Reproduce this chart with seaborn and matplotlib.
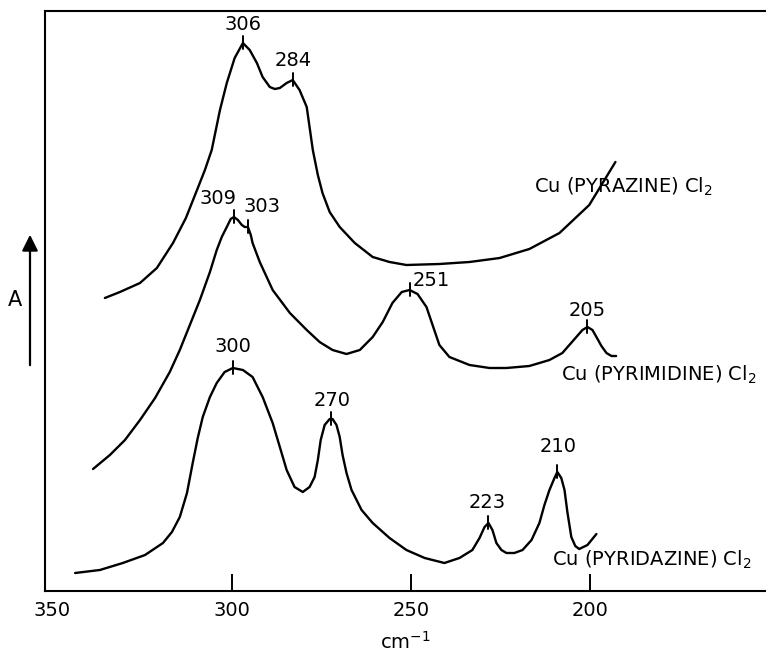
import numpy as np
import pandas as pd
import matplotlib
matplotlib.use("Agg")
import matplotlib.pyplot as plt
import seaborn as sns

# Far-IR absorption spectra (relative absorbance, arbitrary units) vs wavenumber (cm^-1)
pyrazine_x = [335.4, 331.2, 325.6, 320.9, 316.4, 312.8, 309.7, 307.5, 305.6, 303.3,
              301.4, 299.2, 296.9, 295.0, 293.0, 291.4, 289.4, 288.0, 286.6, 284.7,
              283.0, 281.1, 279.1, 277.4, 276.0, 274.7, 272.7, 269.9, 265.7, 260.7,
              256.0, 251.3, 242.1, 233.7, 225.3, 217.0, 208.6, 200.3, 193.0]
pyrazine_y = [293, 299, 308, 323, 348, 373, 401, 421, 441, 481,
              508, 533, 548, 541, 528, 514, 504, 502, 503, 508,
              511, 501, 484, 441, 416, 398, 379, 364, 348, 334,
              329, 326, 327, 329, 333, 342, 358, 386, 429]

pyrimidine_x = [338.7, 334.0, 329.8, 325.6, 321.4, 317.3, 314.5, 311.7, 308.9, 306.1,
                304.2, 302.8, 301.4, 300.3, 299.4, 298.3, 297.2, 296.4, 295.5, 294.7,
                294.2, 292.2, 288.6, 283.8, 279.1, 275.5, 271.9, 268.0, 264.3, 260.7,
                257.9, 255.2, 252.6, 250.4, 248.2, 245.7, 244.0, 242.1, 239.3, 233.7,
                228.1, 223.4, 217.0, 211.4, 207.8, 203.9, 202.2, 200.8, 199.4, 198.3,
                196.9, 195.5, 194.1, 192.8]
pyrimidine_y = [122, 136, 151, 171, 193, 219, 241, 266, 291, 319,
                341, 354, 364, 372, 374, 371, 366, 364, 364, 356,
                348, 329, 301, 278, 261, 249, 241, 237, 241, 254,
                269, 288, 299, 301, 297, 284, 266, 246, 234, 226,
                223, 223, 225, 231, 238, 254, 261, 264, 261, 254,
                245, 238, 235, 235]

pyridazine_x = [343.7, 336.8, 330.4, 324.2, 319.2, 316.7, 314.5, 312.5, 310.9, 309.5,
                308.1, 306.1, 304.2, 302.0, 299.7, 296.9, 294.2, 291.4, 288.6, 286.6,
                284.7, 282.5, 280.2, 278.3, 276.9, 276.0, 275.2, 274.1, 272.7, 271.9,
                270.8, 269.9, 269.1, 268.0, 266.6, 263.8, 260.7, 256.0, 251.3, 246.2,
                240.7, 236.5, 232.9, 230.9, 229.5, 228.4, 227.3, 226.2, 224.8, 223.4,
                221.2, 218.9, 216.4, 214.2, 212.8, 211.4, 210.0, 209.2, 208.1, 207.2,
                206.4, 205.3, 204.2, 203.1, 200.8, 198.3]
pyridazine_y = [18, 21, 28, 36, 48, 59, 74, 98, 128, 153,
                174, 194, 208, 219, 223, 221, 214, 194, 168, 144,
                121, 104, 99, 104, 114, 131, 151, 166, 172, 172,
                166, 154, 136, 118, 101, 81, 68, 53, 41, 33,
                28, 33, 41, 53, 64, 68, 61, 48, 41, 38,
                38, 41, 51, 68, 86, 101, 113, 119, 113, 101,
                79, 54, 45, 42, 46, 57]

# Band positions on each trace and the assigned frequencies written above them
pyrazine_peaks = [296.9, 283.0]
pyrazine_labels = ["306", "284"]
pyrimidine_peaks = [299.4, 295.5, 250.4, 200.8]
pyrimidine_labels = ["309", "303", "251", "205"]
pyridazine_peaks = [299.7, 272.3, 228.4, 209.2]
pyridazine_labels = ["300", "270", "223", "210"]

compound_names = ["Cu (PYRAZINE) Cl$_2$", "Cu (PYRIMIDINE) Cl$_2$", "Cu (PYRIDAZINE) Cl$_2$"]
x_ticks = [350, 300, 250, 200]

sns.set_theme(style="ticks")
plt.rcParams["font.family"] = ["DejaVu Sans"]
plt.rcParams["mathtext.fontset"] = "dejavusans"
plt.rcParams["text.color"] = "black"
plt.rcParams["xtick.color"] = "black"
plt.rcParams["xtick.labelcolor"] = "black"
plt.rcParams["axes.labelcolor"] = "black"

fig = plt.figure(figsize=(7.66, 6.56), dpi=100)
ax = fig.add_axes([45 / 766, 1 - 591 / 656, 1 - 45 / 766, (591 - 11) / 656])

traces = [
    (pyrazine_x, pyrazine_y, pyrazine_peaks, pyrazine_labels),
    (pyrimidine_x, pyrimidine_y, pyrimidine_peaks, pyrimidine_labels),
    (pyridazine_x, pyridazine_y, pyridazine_peaks, pyridazine_labels),
]

# label offsets (pixels) relative to each band tick
label_offsets = [
    [(0, 18), (0, 20)],
    [(-16, 19), (14, 21), (22, 10), (0, 17)],
    [(0, 21), (1, 19), (-1, 20), (1, 25)],
]
name_pos = [(215.6, 404), (208.1, 216), (210.6, 31)]

for (xs, ys, peaks, labels), offs, npos, name in zip(traces, label_offsets, name_pos, compound_names):
    df = pd.DataFrame({"wavenumber": xs, "A": ys})
    sns.lineplot(data=df, x="wavenumber", y="A", ax=ax, sort=False, estimator=None,
                 color="black", linewidth=1.7)
    ax.lines[-1].set_solid_joinstyle("round")
    ax.lines[-1].set_solid_capstyle("round")
    xa = np.array(xs)[::-1]
    ya = np.array(ys)[::-1]
    for px, lab, (dx, dy) in zip(peaks, labels, offs):
        py = float(np.interp(px, xa, ya))
        ax.plot([px, px], [py - 6, py + 7], color="black", linewidth=1.4)
        ax.annotate(lab, xy=(px, py), xytext=(dx, dy), textcoords="offset pixels",
                    ha="center", va="center", fontsize=14, color="black")
    ax.text(npos[0], npos[1], name, ha="left", va="center", fontsize=14, color="black")

ax.set_xlim(352.1, 151.0)
ax.set_ylim(0, 580)
ax.set_xticks(x_ticks)
ax.set_xticklabels([str(t) for t in x_ticks])
ax.set_yticks([])
ax.tick_params(axis="x", direction="in", length=12, width=1.4, pad=7, labelsize=14)
ax.xaxis.get_major_ticks()[0].tick1line.set_visible(False)
ax.set_xlabel("cm$^{-1}$", fontsize=14, labelpad=8)
ax.set_ylabel("")
for side in ["left", "bottom", "top"]:
    ax.spines[side].set_linewidth(1.5)
    ax.spines[side].set_color("black")
ax.spines["right"].set_visible(False)

# absorbance arrow at the left
ax.annotate("", xy=(30, 656 - 232), xytext=(30, 656 - 368), xycoords="figure pixels",
            textcoords="figure pixels", annotation_clip=False,
            arrowprops=dict(arrowstyle="-|>", lw=1.6, color="black", mutation_scale=24))
fig.text(15 / 766, 1 - 300 / 656, "A", ha="center", va="center", fontsize=15, color="black")

fig.savefig("out.png", dpi=100)
